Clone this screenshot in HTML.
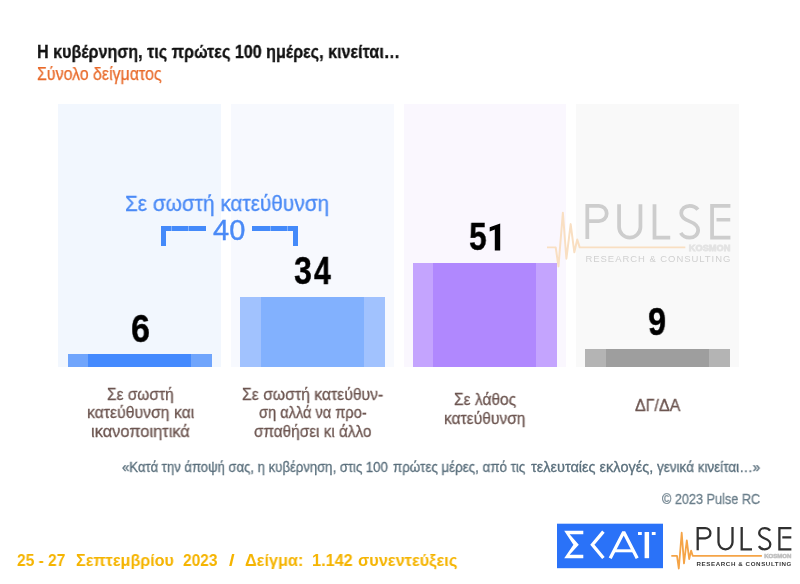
<!DOCTYPE html>
<html><head><meta charset="utf-8">
<style>
html,body{margin:0;padding:0;background:#fff;}
body{width:800px;height:584px;position:relative;overflow:hidden;font-family:"Liberation Sans",sans-serif;}
.a{position:absolute;white-space:pre;line-height:1;}
.t{transform-origin:0 0;}
.p{position:absolute;top:104px;height:263px;width:163px;}
.b{position:absolute;}
.dt{transform-origin:0 0;font-size:16.5px;font-weight:700;color:#f5b400;}
.q{top:460px;font-size:14px;color:#5a6f7c;-webkit-text-stroke:0.3px #5a6f7c;}
.num{position:absolute;transform-origin:0 0;font-weight:700;color:#000;font-size:38px;line-height:1;white-space:pre;-webkit-text-stroke:0.4px #000;}
.lbl{position:absolute;-webkit-text-stroke:0.3px #6d5651;color:#6d5651;font-size:16.5px;line-height:1;white-space:pre;transform-origin:0 0;}
body>div{will-change:transform;}
</style></head><body>

<div class="a t" id="title" style="left:37px;top:42.8px;font-size:18px;font-weight:700;color:#111;-webkit-text-stroke:0.3px #111;transform:scaleX(0.895)">Η κυβέρνηση, τις πρώτες 100 ημέρες, κινείται…</div>
<div class="a t" id="sub" style="left:37px;top:65.5px;font-size:17.5px;color:#e86a2a;-webkit-text-stroke:0.25px #e86a2a;transform:scaleX(0.91)">Σύνολο δείγματος</div>

<!-- panels -->
<div class="p" style="left:58px;background:#f2f7fe"></div>
<div class="p" style="left:231px;background:#f7f9fe"></div>
<div class="p" style="left:404px;width:162px;background:#faf7fe"></div>
<div class="p" style="left:576px;background:#f9f9f9"></div>

<!-- bars -->
<div class="b" style="left:68px;top:354px;width:144px;height:13px;background:#70a5fc"></div>
<div class="b" style="left:88px;top:354px;width:103px;height:13px;background:#448afe"></div>
<div class="b" style="left:240px;top:297px;width:145px;height:70px;background:#a1c2fe"></div>
<div class="b" style="left:261px;top:297px;width:103px;height:70px;background:#82b1fe"></div>
<div class="b" style="left:413px;top:263px;width:144px;height:104px;background:#c4a4fe"></div>
<div class="b" style="left:433px;top:263px;width:103px;height:104px;background:#b088fe"></div>
<div class="b" style="left:585px;top:349px;width:145px;height:18px;background:#b4b4b4"></div>
<div class="b" style="left:606px;top:349px;width:103px;height:18px;background:#9e9e9e"></div>

<!-- numbers -->
<div class="num" style="left:131.00px;top:309.6px;transform:scaleX(0.895)">6</div>
<div class="num" style="left:294.05px;top:251.8px;transform:scaleX(0.847)">3</div>
<div class="num" style="left:314.00px;top:251.8px;transform:scaleX(0.795)">4</div>
<div class="num" style="left:468.92px;top:218.4px;transform:scaleX(0.834)">5</div>
<div class="num" style="left:648.14px;top:302.8px;transform:scaleX(0.858)">9</div>
<svg style="position:absolute;left:0;top:0" width="800" height="584"><path d="M500.2,223.4 V250.6 H494.8 V229.4 L489.7,231.6 V227.2 Z" fill="#000"/></svg>

<!-- annotation -->
<div class="a t" style="left:125px;top:193px;font-size:22px;color:#4a8af6;-webkit-text-stroke:0.3px #4a8af6;transform:scaleX(0.945)">Σε σωστή κατεύθυνση</div>
<div class="a" style="left:213px;top:216px;font-size:29px;color:#4a8af6;-webkit-text-stroke:0.4px #4a8af6">40</div>
<div class="b" style="left:161px;top:226px;width:45px;height:5px;background:#448afa"></div>
<div class="b" style="left:161px;top:226px;width:5px;height:20px;background:#448afa"></div>
<div class="b" style="left:252px;top:226px;width:46px;height:5px;background:#448afa"></div>
<div class="b" style="left:293px;top:226px;width:5px;height:20px;background:#448afa"></div>
<div class="b" style="left:171px;top:226px;width:1px;height:5px;background:rgba(255,255,255,.35)"></div>
<div class="b" style="left:188px;top:226px;width:1px;height:5px;background:rgba(255,255,255,.35)"></div>
<div class="b" style="left:270px;top:226px;width:1px;height:5px;background:rgba(255,255,255,.35)"></div>
<div class="b" style="left:287px;top:226px;width:1px;height:5px;background:rgba(255,255,255,.35)"></div>

<!-- labels -->
<div class="lbl" style="left:107.26px;top:385.53px;transform:scaleX(0.937)">Σε σωστή</div>
<div class="lbl" style="left:86.94px;top:404.43px;transform:scaleX(0.956)">κατεύθυνση και</div>
<div class="lbl" style="left:90.71px;top:423.13px;transform:scaleX(0.994)">ικανοποιητικά</div>
<div class="lbl" style="left:242.15px;top:385.53px;transform:scaleX(0.954)">Σε σωστή κατεύθυν-</div>
<div class="lbl" style="left:259.00px;top:404.43px;transform:scaleX(0.885)">ση αλλά να προ-</div>
<div class="lbl" style="left:254.20px;top:423.13px;transform:scaleX(0.929)">σπαθήσει κι άλλο</div>
<div class="lbl" style="left:453.56px;top:391.43px;transform:scaleX(0.942)">Σε λάθος</div>
<div class="lbl" style="left:444.06px;top:410.33px;transform:scaleX(0.944)">κατεύθυνση</div>
<div class="lbl" style="left:635.10px;top:396.63px;transform:scaleX(0.97)">ΔΓ/ΔΑ</div>

<!-- footer -->
<div class="a t q" style="left:121.6px;transform:scaleX(0.937)">«Κατά την άποψή σας, η κυβέρνηση, στις 100</div>
<div class="a t q" style="left:393px;transform:scaleX(0.955)">πρώτες μέρες, από τις</div>
<div class="a t q" style="left:531px;transform:scaleX(1.038)">τελευταίες εκλογές,</div>
<div class="a t q" style="left:657.4px;transform:scaleX(0.964)">γενικά κινείται…»</div>

<div class="a t" style="left:662px;top:492.15px;font-size:14px;color:#6a7e8a;-webkit-text-stroke:0.3px #6a7e8a;transform:scaleX(0.905)">© 2023 Pulse RC</div>


<div class="a dt" style="left:16.9px;top:551.63px;transform:scaleX(0.94)">25 - 27</div>
<div class="a dt" style="left:75.9px;top:551.63px;transform:scaleX(0.977)">Σεπτεμβρίου</div>
<div class="a dt" style="left:182.5px;top:551.63px;transform:scaleX(0.94)">2023</div>
<div class="a dt" style="left:228.75px;top:551.63px;transform:scaleX(1.22)">/</div>
<div class="a dt" style="left:244.5px;top:551.63px;transform:scaleX(0.986)">Δείγμα:</div>
<div class="a dt" style="left:311.5px;top:551.63px;transform:scaleX(0.986)">1.142</div>
<div class="a dt" style="left:357.7px;top:551.63px;transform:scaleX(0.991)">συνεντεύξεις</div>
<!-- logos -->
<svg style="position:absolute;left:0;top:0" width="800" height="584" viewBox="0 0 800 584">
<g transform="translate(547 204.3) scale(1.527 1.5)">
<path d="M0,28.7 H5.7 L7.5,41.4 L10.4,5.6 L12.7,36.3 L15.5,13.2 L17.9,32 L19.8,23.5 L21.4,28.7 H90.6" fill="none" stroke="#f9dfc2" stroke-width="1.3" stroke-linejoin="round"/>
<g fill="none" stroke="#cdcdcd" stroke-width="2.45" stroke-linecap="butt">
<path d="M26.4,23.2 V1 H34 A5.1,5.1 0 0 1 34,11.2 H26.4"/>
<path d="M47.2,0 V15.2 A7,7 0 0 0 61.2,15.2 V0"/>
<path d="M70.4,0 V22.2 H80.7"/>
<path d="M98.8,3.6 C97.5,1.8 95.6,1 93.4,1 C90.3,1 87.9,3.2 87.9,6 C87.9,9 90.5,10.3 93.4,11.4 C96.5,12.6 99,14 99,17.2 C99,20.2 96.5,22.2 93.4,22.2 C90.8,22.2 88.7,21 87.6,19"/>
<path d="M120.1,1 H108.1 V22.2 H120.1 M111,10.3 H120"/>
</g>
<text x="92.9" y="31" font-family="Liberation Sans" font-weight="700" font-size="5.6" fill="#e3e3e3" stroke="#e3e3e3" stroke-width="0.5" textLength="27.2" lengthAdjust="spacingAndGlyphs">KOSMON</text>
<text x="25.2" y="38.6" font-family="Liberation Sans" font-weight="400" font-size="6.2" fill="#d0d0d0" textLength="94.9" lengthAdjust="spacing">RESEARCH &amp; CONSULTING</text>
</g>
<rect x="557" y="523.7" width="106" height="44.5" fill="#2a72f8"/>
<g fill="none" stroke="#fff" stroke-width="3">
</g>
<path d="M564.2,530.8 H583.3 V534.3 H569.6 L578.8,544.8 L569.6,554.8 H583.3 V558.3 H564.2 L573.4,544.8 Z" fill="#fff"/>
<g fill="none" stroke="#fff" stroke-width="3">
<path d="M603.4,531.6 L592.4,544.8 L603.4,558" stroke-width="3.3"/>
<path d="M610.2,558.2 L623.7,532 L637.2,558.2" stroke-linejoin="bevel" stroke-width="3.3"/>
<path d="M614.5,550.8 H633"/>
</g>
<rect x="644.6" y="532" width="4.5" height="26.2" fill="#fff"/>
<rect x="638" y="532" width="3.8" height="3" fill="#fff"/>
<rect x="651.8" y="532" width="3.8" height="3" fill="#fff"/>
<g transform="translate(671.3 527.1) scale(1.0)">
<path d="M0,28.7 H5.7 L7.5,41.4 L10.4,5.6 L12.7,36.3 L15.5,13.2 L17.9,32 L19.8,23.5 L21.4,28.7 H90.6" fill="none" stroke="#f5a447" stroke-width="1.8" stroke-linejoin="round"/>
<g fill="none" stroke="#303030" stroke-width="2.3" stroke-linecap="butt">
<path d="M26.4,23.2 V1 H34 A5.1,5.1 0 0 1 34,11.2 H26.4"/>
<path d="M47.2,0 V15.2 A7,7 0 0 0 61.2,15.2 V0"/>
<path d="M70.4,0 V22.2 H80.7"/>
<path d="M98.8,3.6 C97.5,1.8 95.6,1 93.4,1 C90.3,1 87.9,3.2 87.9,6 C87.9,9 90.5,10.3 93.4,11.4 C96.5,12.6 99,14 99,17.2 C99,20.2 96.5,22.2 93.4,22.2 C90.8,22.2 88.7,21 87.6,19"/>
<path d="M120.1,1 H108.1 V22.2 H120.1 M111,10.3 H120"/>
</g>
<text x="92.9" y="31" font-family="Liberation Sans" font-weight="700" font-size="5.6" fill="#c0c0c0" stroke="#c0c0c0" stroke-width="0.5" textLength="27.2" lengthAdjust="spacingAndGlyphs">KOSMON</text>
<text x="25.2" y="38.6" font-family="Liberation Sans" font-weight="700" font-size="6.2" fill="#3a3a3a" textLength="94.9" lengthAdjust="spacing">RESEARCH &amp; CONSULTING</text>
</g>
</svg>
</body></html>
